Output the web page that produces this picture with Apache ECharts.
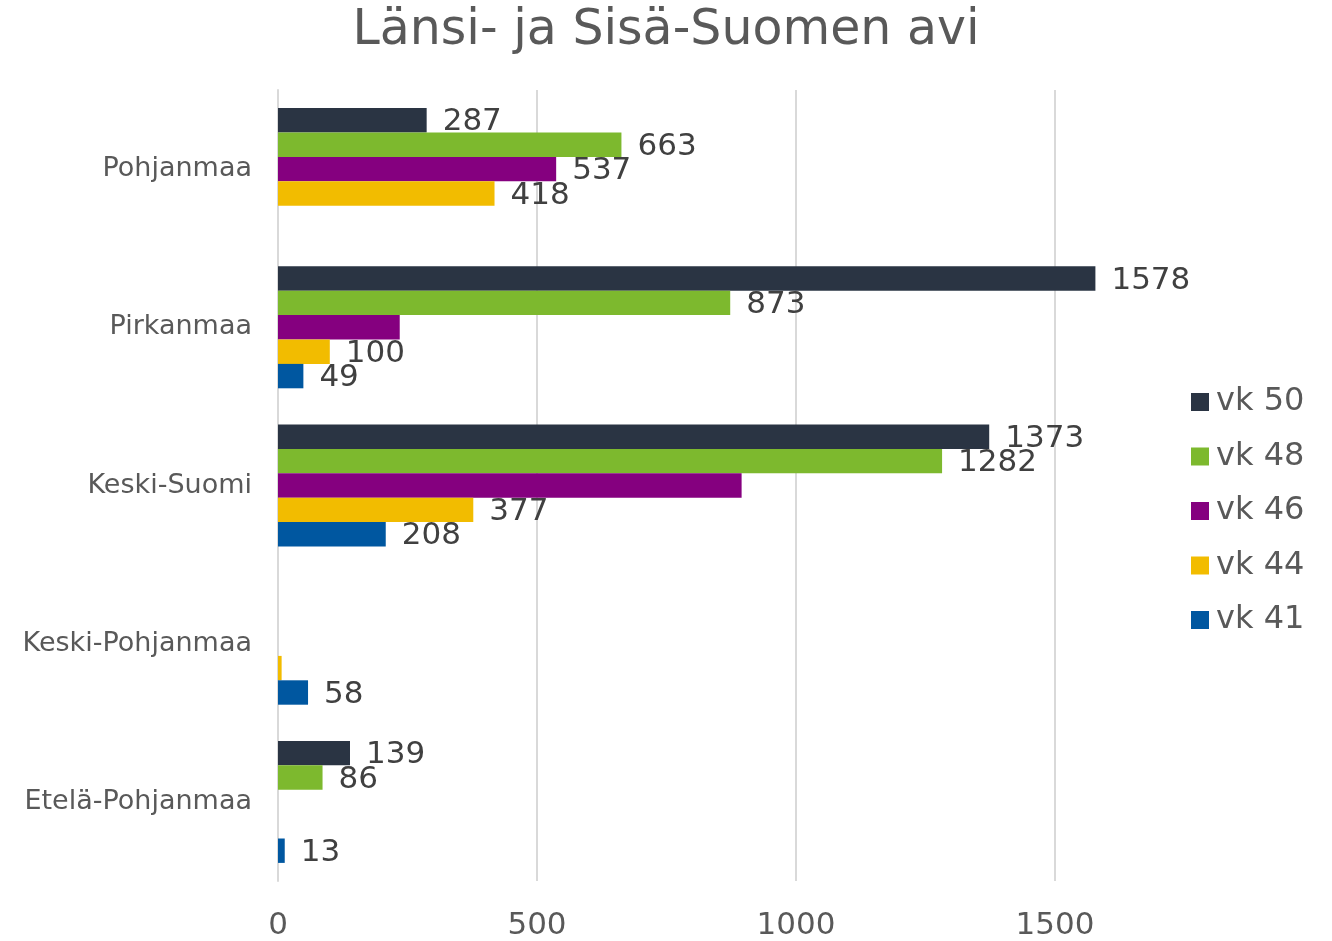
<!DOCTYPE html>
<html>
<head>
    <meta charset="utf-8">
    <script src="https://cdn.jsdelivr.net/npm/echarts@6/dist/echarts.min.js"></script>
    <style>
        html, body { margin: 0; padding: 0; background: #fff; }
    </style>
</head>
<body>
<div id="main" style="width: 1332px;height:941px;"></div>
<script>
  // 数据
  var categories = ['Pohjanmaa', 'Pirkanmaa', 'Keski-Suomi', 'Keski-Pohjanmaa', 'Etelä-Pohjanmaa'];
  var seriesNames = ['vk 50', 'vk 48', 'vk 46', 'vk 44', 'vk 41'];
  var vk50 = [287, 1578, 1373, null, 139];
  var vk48 = [663, 873, 1282, null, 86];
  var vk46 = [537, 235, 895, null, null];
  var vk44 = [418, 100, 377, 7, null];
  var vk41 = [null, 49, 208, 58, 13];
  // 不显示标签的数值（按图片）
  var hideLabel46 = [false, true, true, false, false];
  var hideLabel44 = [false, false, false, true, false];
  var xTicks = [0, 500, 1000, 1500];
  var colors = ['#2a3443', '#7db92e', '#85007f', '#f2bc00', '#0057a0'];

  var font = 'Verdana, "DejaVu Sans", sans-serif';

  function toData(values, hidden) {
    return values.map(function (v, i) {
      if (v === null) return '-';
      if (hidden && hidden[i]) return { value: v, label: { show: false } };
      return v;
    });
  }

  var allValues = [vk50, vk48, vk46, vk44, vk41];
  var hiddenList = [null, null, hideLabel46, hideLabel44, null];

  var series = seriesNames.map(function (name, i) {
    return {
      name: name,
      type: 'bar',
      data: toData(allValues[i], hiddenList[i]),
      itemStyle: { color: colors[i] },
      barWidth: 24.4,
      barGap: '0%',
      label: {
        show: true,
        position: 'right',
        distance: 16,
        offset: [0, 2],
        fontFamily: font,
        fontSize: 31,
        color: '#404040'
      }
    };
  });

  var myChart = echarts.init(document.getElementById('main'));
  var option = {
    backgroundColor: '#fff',
    animation: false,
    title: {
      text: 'Länsi- ja Sisä-Suomen avi',
      left: 'center',
      top: 2,
      textStyle: { fontFamily: font, fontSize: 49, fontWeight: 'normal', color: '#595959' }
    },
    legend: {
      orient: 'vertical',
      left: 1191,
      top: 386,
      padding: 0,
      itemWidth: 18,
      itemHeight: 18,
      itemGap: 22.5,
      icon: 'rect',
      data: seriesNames,
      textStyle: { fontFamily: font, fontSize: 32, color: '#595959', padding: [0, 0, 0, 2] }
    },
    grid: {
      left: 278,
      top: 90,
      width: 1800 * 259 / 500,
      height: 793,
      containLabel: false
    },
    xAxis: {
      type: 'value',
      min: 0,
      max: 1800,
      interval: 500,
      axisLine: { show: false },
      axisTick: { show: false },
      axisLabel: {
        showMaxLabel: false,
        margin: 29,
        fontFamily: font,
        fontSize: 31,
        color: '#595959',
        formatter: function (v) { return xTicks.indexOf(v) >= 0 ? String(v) : ''; }
      },
      splitLine: { showMaxLine: false, lineStyle: { color: '#d9d9d9', width: 2 } }
    },
    yAxis: {
      type: 'category',
      inverse: true,
      data: categories,
      axisLine: { show: true, lineStyle: { color: '#d9d9d9', width: 2 } },
      axisTick: { show: false },
      axisLabel: {
        margin: 26,
        fontFamily: font,
        fontSize: 27,
        color: '#595959'
      }
    },
    series: series
  };
  myChart.setOption(option);
</script>
</body>
</html>
